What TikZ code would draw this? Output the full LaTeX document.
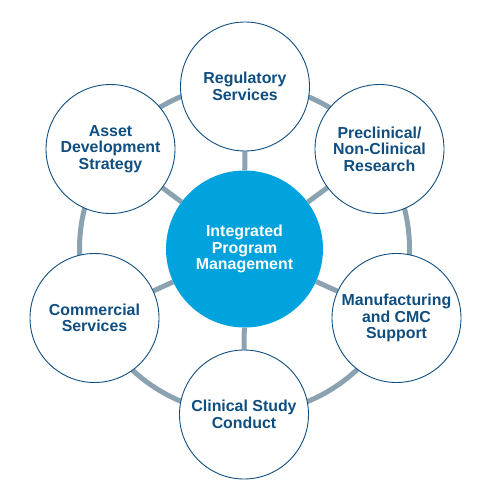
\documentclass[tikz,border=0pt]{standalone}
\usepackage{fontspec}
\setmainfont{Liberation Sans}
\usetikzlibrary{backgrounds}
\definecolor{hubblue}{RGB}{0,163,222}
\definecolor{textblue}{RGB}{16,78,128}
\definecolor{ringgray}{RGB}{139,162,177}

\begin{document}
\begin{tikzpicture}[x=1pt,y=-1pt,
        area/.style={circle, draw=textblue, line width=0.9pt, fill=white, minimum size=129pt, inner sep=0pt,
            align=center, text=textblue, font=\bfseries\fontsize{15.9}{16.5}\selectfont},
        hub/.style={circle, fill=hubblue, minimum size=157pt, inner sep=0pt,
            align=center, text=white, font=\bfseries\fontsize{15.9}{16.5}\selectfont},
        link/.style={ringgray, line width=5pt}]
        \useasboundingbox (0,0) rectangle (500,500);

        \node[hub] (ipm) at (244.5,249) {Integrated\\Program\\Management};

        \node[area] (reg) at (245,86.5) {Regulatory\\Services};
        \node[area] (pre) at (379.5,149) {Preclinical/\\Non-Clinical\\Research};
        \node[area] (cmc) at (396.5,318) {Manufacturing\\and CMC\\Support};
        \node[area] (csc) at (244,414.5) {Clinical Study\\Conduct};
        \node[area] (com) at (94.5,318) {Commercial\\Services};
        \node[area] (ads) at (110.5,149) {Asset\\Development\\Strategy};

        \begin{scope}[on background layer]
            \draw [link] (ipm.center) circle[radius=165];
            \foreach \n in {reg,pre,cmc,csc,com,ads} {
                \draw [link] (ipm) -- (\n);
            }
        \end{scope}
    \end{tikzpicture}
\end{document}
